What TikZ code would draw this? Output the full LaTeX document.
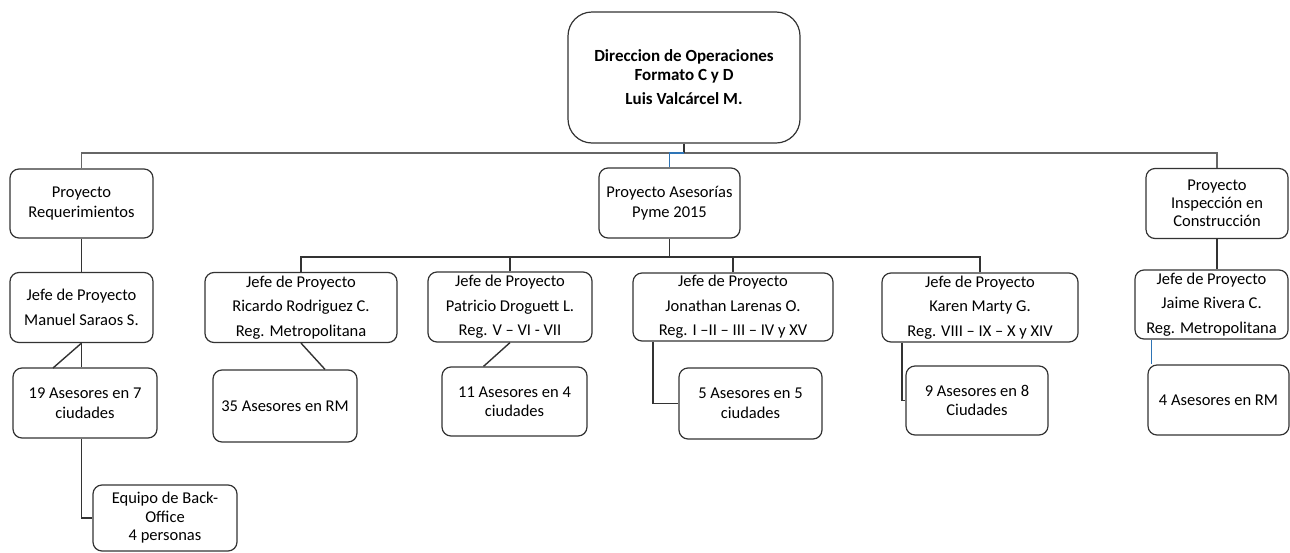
\documentclass[tikz,border=0pt]{standalone}
\usepackage{fontspec}
\setmainfont{Carlito}
\begin{document}
\begin{tikzpicture}[x=1pt,y=-1pt,
  caja/.style={draw=black!80,line width=1.2pt,rounded corners=9pt,align=center,
    inner sep=0pt,font=\fontsize{16.5}{19.5}\selectfont},
  tam/.style 2 args={minimum width=#1pt,minimum height=#2pt},
  linea/.style={black!80,line width=1.4pt},
  barra/.style={black!60,line width=1.9pt},
  azul/.style={color={rgb,255:red,46;green,116;blue,181},line width=1.1pt}]
  \useasboundingbox (0,0) rectangle (1290,552);

  \node[caja,tam={232}{131},rounded corners=24pt,font=\fontsize{17}{19}\selectfont\bfseries]
    (dir) at (684,77.5) {Direccion de Operaciones\\Formato C y D\\[5pt]Luis Valcárcel M.};

  \node[caja,tam={143}{69}] (req) at (81.5,203.5) {Proyecto\\Requerimientos};
  \node[caja,tam={141}{70}] (pyme) at (669.5,203) {Proyecto Asesorías\\Pyme 2015};
  \node[caja,tam={142}{70},font=\fontsize{16.5}{18}\selectfont] (insp) at (1217,203.5)
    {Proyecto\\Inspección en\\Construcción};

  \node[caja,tam={143}{70}] (manuel) at (81.5,307.5) {Jefe de Proyecto\\[5pt]Manuel Saraos S.};
  \node[caja,tam={192}{70}] (ricardo) at (301,307.5)
    {Jefe de Proyecto\\[5pt]Ricardo Rodriguez C.\\[5pt]Reg. Metropolitana};
  \node[caja,tam={164}{70}] (patricio) at (510,307)
    {Jefe de Proyecto\\[5pt]Patricio Droguett L.\\[5pt]Reg. V – VI - VII};
  \node[caja,tam={200}{68}] (jonathan) at (733,307)
    {Jefe de Proyecto\\[5pt]Jonathan Larenas O.\\[5pt]Reg. I –II – III – IV y XV};
  \node[caja,tam={196}{69}] (karen) at (980,307.5)
    {Jefe de Proyecto\\[5pt]Karen Marty G.\\[5pt]Reg. VIII – IX – X y XIV};
  \node[caja,tam={153}{69}] (jaime) at (1211.5,304.5)
    {Jefe de Proyecto\\[5pt]Jaime Rivera C.\\[5pt]Reg. Metropolitana};

  \node[caja,tam={144}{70}] (ase19) at (85,403) {19 Asesores en 7\\ciudades};
  \node[caja,tam={144}{66},font=\fontsize{16.5}{18.5}\selectfont] (back) at (165,518)
    {Equipo de Back-\\Office\\4 personas};
  \node[caja,tam={144}{72}] (ase35) at (285,406) {35 Asesores en RM};
  \node[caja,tam={145}{69}] (ase11) at (514.5,401.5) {11 Asesores en 4\\ciudades};
  \node[caja,tam={143}{71}] (ase5) at (750.5,403.5) {5 Asesores en 5\\ciudades};
  \node[caja,tam={142}{69}] (ase9) at (977,400.5) {9 Asesores en 8\\Ciudades};
  \node[caja,tam={141}{70}] (ase4) at (1218.5,400) {4 Asesores en RM};

  \coordinate (bus1) at (684,153);
  \coordinate (bus2) at (669.5,257);
  \coordinate (d19) at (53,368);

  \draw[barra] (req.north) |- (bus1) -| (insp.north);
  \draw[linea] (dir.south) -- (bus1);
  \draw[azul] (pyme.north) |- (bus1);

  \draw[linea] (pyme.south) -- (bus2);
  \draw[linea] (ricardo.north) |- (bus2) -| (karen.north);
  \draw[linea] (patricio.north) -- (patricio.north |- bus2);
  \draw[linea] (jonathan.north) -- (jonathan.north |- bus2);

  \draw[linea] (req) -- (manuel);
  \draw[linea] (manuel.south) -- (manuel.south |- ase19.north);
  \draw[linea] (manuel.south) -- (d19);
  \draw[linea] (manuel.south |- ase19.south) |- (back.west);
  \draw[linea] (ricardo.south) -- ([xshift=40pt]ase35.north);
  \draw[linea] (patricio.south) -- ([xshift=-31pt]ase11.north);
  \draw[linea] ([xshift=-80pt]jonathan.south) |- (ase5.west);
  \draw[linea] ([xshift=-78pt]karen.south) |- (ase9.west);
  \draw[linea] (insp.south) -- (insp.south |- jaime.north);
  \draw[azul] ([xshift=-60pt]jaime.south) -- ([xshift=-67pt]ase4.north);
\end{tikzpicture}
\end{document}
